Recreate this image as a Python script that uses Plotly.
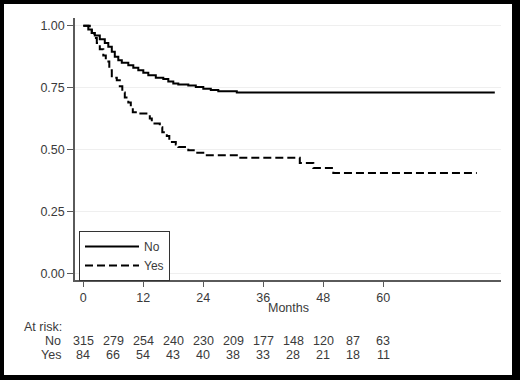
import plotly.graph_objects as go

# Kaplan-Meier step data (months, survival)
no_t = [0, 1.0, 1.7, 2.3, 3.3, 4.3, 5.0, 5.7, 6.3, 7.0, 7.7, 9.0, 10.0, 11.0, 12.0, 13.0,
        14.5, 16.0, 17.0, 18.0, 19.0, 21.0, 22.5, 24.0, 25.5, 27.0, 30.7, 82.3]
no_s = [1.0, 0.985, 0.97, 0.96, 0.945, 0.93, 0.915, 0.895, 0.875, 0.86, 0.85, 0.84, 0.83,
        0.82, 0.81, 0.80, 0.79, 0.785, 0.775, 0.767, 0.762, 0.758, 0.752, 0.745, 0.74,
        0.735, 0.73, 0.73]

yes_t = [0, 1.3, 1.7, 2.2, 2.7, 3.3, 4.0, 4.5, 5.2, 5.7, 6.7, 7.3, 7.8, 8.3, 9.0, 9.5, 9.9,
         10.5, 13.3, 13.7, 15.3, 15.8, 16.7, 17.2, 18.5, 19.0, 21.0, 22.5, 24.3, 30.7,
         43.3, 46.0, 50.0, 78.7]
yes_s = [1.0, 0.99, 0.97, 0.95, 0.93, 0.905, 0.88, 0.855, 0.82, 0.79, 0.78, 0.755, 0.73,
         0.71, 0.69, 0.67, 0.65, 0.645, 0.625, 0.605, 0.59, 0.57, 0.555, 0.53, 0.52, 0.51,
         0.497, 0.487, 0.477, 0.467, 0.445, 0.425, 0.405, 0.405]

risk_times = [0, 6, 12, 18, 24, 30, 36, 42, 48, 54, 60]
risk_no = [315, 279, 254, 240, 230, 209, 177, 148, 120, 87, 63]
risk_yes = [84, 66, 54, 43, 40, 38, 33, 28, 21, 18, 11]

x_ticks = [0, 12, 24, 36, 48, 60]
y_ticks = [0, 0.25, 0.5, 0.75, 1.0]
y_tick_labels = ["0.00", "0.25", "0.50", "0.75", "1.00"]

FONT = "Liberation Sans, Arial, sans-serif"
TXT = "#3a3a3a"
AX = "#5a5a5a"
FS = 12.5

fig = go.Figure()
fig.add_trace(go.Scatter(x=no_t, y=no_s, mode="lines", name="No",
                         line=dict(color="black", width=2, shape="hv")))
fig.add_trace(go.Scatter(x=yes_t, y=yes_s, mode="lines", name="Yes",
                         line=dict(color="black", width=2, shape="hv", dash="8px,4px")))

W, H = 520, 380
L, R, T, B = 75, 19, 18, 100
pw, ph = W - L - R, H - T - B


def px(x):
    return (x - L) / pw


def py(y):
    return (H - B - y) / ph


# white panel inside black frame
fig.add_shape(type="rect", xref="paper", yref="paper",
              x0=px(4), x1=px(512), y0=py(375), y1=py(4),
              fillcolor="white", line=dict(width=0), layer="below")


def txt(text, x, y, xref="paper", xanchor="center"):
    return dict(text=text, x=x, y=y, xref=xref, yref="paper", xanchor=xanchor,
                yanchor="middle", showarrow=False,
                font=dict(size=FS, color=TXT, family=FONT))


ann = [txt("Months", px(288), py(308)),
       txt("At risk:", px(22), py(327), xanchor="left"),
       txt("No", px(63), py(341), xanchor="right"),
       txt("Yes", px(63), py(354.5), xanchor="right")]
for t, n1, n2 in zip(risk_times, risk_no, risk_yes):
    ann.append(txt(str(n1), t, py(341), xref="x"))
    ann.append(txt(str(n2), t, py(354.5), xref="x"))

fig.update_layout(
    width=W, height=H,
    margin=dict(l=L, r=R, t=T, b=B, pad=0),
    paper_bgcolor="black",
    plot_bgcolor="white",
    showlegend=True,
    legend=dict(x=px(79), y=py(231), xanchor="left", yanchor="top",
                bordercolor="#333", borderwidth=1, bgcolor="white",
                font=dict(size=12, color=TXT, family=FONT),
                itemwidth=54, tracegroupgap=0),
    annotations=ann,
    xaxis=dict(range=[-1.66, 83.54], tickvals=x_ticks, showgrid=False, zeroline=False,
               showline=True, linecolor=AX, linewidth=1.5, ticks="outside", ticklen=5,
               tickcolor=AX, tickfont=dict(size=FS, color=TXT, family=FONT)),
    yaxis=dict(range=[-0.027, 1.031], tickvals=y_ticks, ticktext=y_tick_labels,
               showgrid=True, gridcolor="#efefef", gridwidth=1, zeroline=False,
               showline=True, linecolor=AX, linewidth=1.5, ticks="outside", ticklen=6,
               tickcolor=AX, tickfont=dict(size=FS, color=TXT, family=FONT)),
)

fig.write_html("out.html", config={"displayModeBar": False},
               post_script="document.body.style.margin='0';document.body.style.overflow='hidden';")
